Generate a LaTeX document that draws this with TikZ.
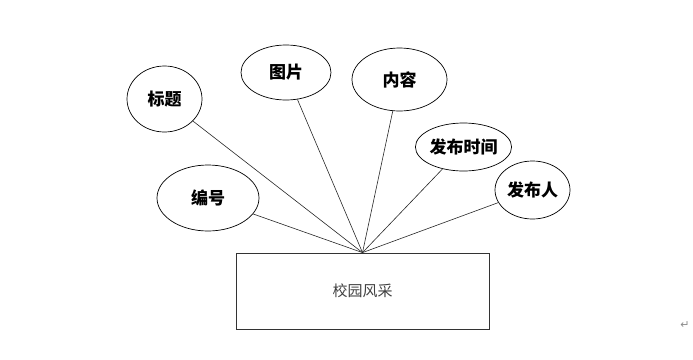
\documentclass[tikz,border=0pt]{standalone}
\usepackage{fontspec}
\usetikzlibrary{shapes.geometric}
\newfontfamily\cjk{Noto Sans CJK SC}
\newfontfamily\markfont{DejaVu Sans}

\begin{document}
\begin{tikzpicture}[
  x=1pt, y=-1pt,
  every node/.style={font=\cjk},
  attr/.style={draw=black, ellipse, inner sep=0pt, line width=0.7pt,
               font=\cjk\fontsize{17}{17}\selectfont\bfseries},
  ent/.style={draw=black!80, rectangle, inner sep=0pt, line width=0.8pt,
              minimum width=253pt, minimum height=76pt,
              font=\cjk\fontsize{15}{15}\selectfont, text=black!75},
  link/.style={draw=black!85, line width=0.6pt}
]
\useasboundingbox (0,0) rectangle (693,359);

\node[ent] (xiaoyuan) at (362.5, 291) {校园风采};
\coordinate (hub) at (xiaoyuan.north);

\node[attr, minimum width=75pt, minimum height=66pt] (biaoti) at (164.5, 99) {标题};
\node[attr, minimum width=90pt, minimum height=55pt] (tupian) at (286, 72.5) {图片};
\node[attr, minimum width=95pt, minimum height=63pt] (neirong) at (399.5, 79.5) {内容};
\node[attr, minimum width=87pt, minimum height=48pt] (shijian) at (463.5, 147) {发布时间};
\node[attr, minimum width=75pt, minimum height=58pt] (faburen) at (532.5, 190) {发布人};
\node[attr, minimum width=102pt, minimum height=66pt] (bianhao) at (208, 198) {编号};

\foreach \a in {biaoti, tupian, neirong, shijian, faburen, bianhao}
  \draw[link] (hub) -- (\a);

\node[font=\markfont\fontsize{11}{11}\selectfont, text=black!45] (mark) at (685, 325) {↵};
\end{tikzpicture}
\end{document}
